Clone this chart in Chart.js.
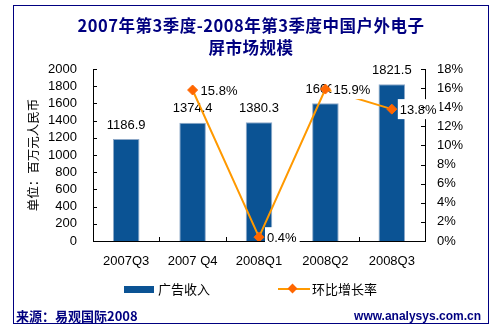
<!DOCTYPE html>
<html><head><meta charset="utf-8">
<script src="https://cdn.jsdelivr.net/npm/chart.js@4/dist/chart.umd.min.js"></script>
<style>
html,body{margin:0;padding:0;background:#fff;}
#wrap{position:relative;width:502px;height:330px;overflow:hidden;font-family:"Liberation Sans",Arial,sans-serif;}
#c{position:absolute;left:0;top:0;}
.frame{position:absolute;left:13px;top:5px;width:476px;height:319px;border:1px solid #000080;box-sizing:border-box;}
.title{position:absolute;left:0;top:14px;width:502px;text-align:center;font:bold 16.5px/22px "Noto Sans CJK SC",sans-serif;letter-spacing:0.5px;color:#000080;}
.leg{position:absolute;top:280px;height:18px;font:13px/18px "Noto Sans CJK SC",sans-serif;color:#000;}
.src{position:absolute;left:16px;top:307px;font:bold 13px/18px "Noto Sans CJK SC",sans-serif;color:#000080;}
.url{position:absolute;right:21px;top:307px;font:bold 12px/18px "Liberation Sans",Arial,sans-serif;color:#000080;}
</style></head>
<body>
<div id="wrap">
<canvas id="c" width="502" height="330"></canvas>
<div class="frame"></div>
<div class="title">2007年第3季度-2008年第3季度中国户外电子<br>屏市场规模</div>
<div class="leg" style="left:124px;"><span style="display:inline-block;width:30px;height:7px;background:#0B5394;vertical-align:middle;margin-right:4px;position:relative;top:-1px;"></span>广告收入</div>
<div class="leg" style="left:278px;"><span style="display:inline-block;width:32px;height:14px;vertical-align:middle;position:relative;top:-1px;margin-right:2px;">
<span style="position:absolute;left:0;top:6px;width:32px;height:2px;background:#FF9900;"></span>
<span style="position:absolute;left:11px;top:3px;width:7px;height:7px;background:#FF6600;transform:rotate(45deg);"></span></span>环比增长率</div>
<div class="src">来源：易观国际2008</div>
<div class="url">www.analysys.com.cn</div>
</div>
<script>
const categories = ["2007Q3","2007 Q4","2008Q1","2008Q2","2008Q3"];
const revenue = [1186.9, 1374.4, 1380.3, 1600.6, 1821.5];
const growth = [null, 15.8, 0.4, 15.9, 13.8];
const revenueLabels = ["1186.9","1374.4","1380.3","1600.6","1821.5"];
const growthLabels = [null, "15.8%", "0.4%", "15.9%", "13.8%"];
const leftAxis = {min: 0, max: 2000, step: 200};
const rightAxis = {min: 0, max: 18, step: 2};

const tickFont = {family: '"Liberation Sans", Arial, sans-serif', size: 13};

const labelPlugin = {
  id: 'labels',
  afterDatasetDraw(chart, args) {
    const ctx = chart.ctx;
    const meta = args.meta;
    ctx.save();
    ctx.font = '13px "Liberation Sans", Arial, sans-serif';
    ctx.fillStyle = '#000';
    ctx.textBaseline = 'middle';
    if (meta.type === 'bar') {
      ctx.textAlign = 'center';
      meta.data.forEach((el, i) => {
        ctx.fillText(revenueLabels[i], el.x, el.y - 14);
      });
    } else if (meta.type === 'line') {
      ctx.textAlign = 'left';
      meta.data.forEach((el, i) => {
        const t = growthLabels[i];
        if (!t) return;
        const w = ctx.measureText(t).width;
        ctx.fillStyle = '#fff';
        ctx.fillRect(el.x + 6, el.y - 10, w + 5, 20);
        ctx.fillStyle = '#000';
        ctx.fillText(t, el.x + 8, el.y + 1);
      });
    }
    ctx.restore();
  }
};

const tickPlugin = {
  id: 'inticks',
  afterDraw(chart) {
    const ctx = chart.ctx;
    const a = chart.chartArea;
    const x = chart.scales.x, y = chart.scales.y, y1 = chart.scales.y1;
    ctx.save();
    ctx.strokeStyle = '#000';
    ctx.lineWidth = 1;
    ctx.beginPath();
    y.ticks.forEach((t, i) => {
      const p = Math.round(y.getPixelForTick(i)) + 0.5;
      ctx.moveTo(a.left, p); ctx.lineTo(a.left + 4, p);
    });
    y1.ticks.forEach((t, i) => {
      const p = Math.round(y1.getPixelForTick(i)) + 0.5;
      ctx.moveTo(a.right, p); ctx.lineTo(a.right - 4, p);
    });
    for (let i = 1; i < categories.length; i++) {
      const p = Math.round((x.getPixelForValue(i - 1) + x.getPixelForValue(i)) / 2) + 0.5;
      ctx.moveTo(p, a.bottom); ctx.lineTo(p, a.bottom - 4);
    }
    ctx.stroke();
    ctx.restore();
  }
};

new Chart(document.getElementById('c'), {
  data: {
    labels: categories,
    datasets: [
      {
        type: 'line', label: '环比增长率', data: growth, yAxisID: 'y1', order: 0,
        borderColor: '#FF9900', borderWidth: 2, tension: 0,
        pointStyle: 'rectRot', pointRadius: 5, pointBackgroundColor: '#FF6600',
        pointBorderColor: '#FF6600', pointBorderWidth: 1
      },
      {
        type: 'bar', label: '广告收入', data: revenue, yAxisID: 'y', order: 1,
        backgroundColor: '#0B5394', borderColor: '#8EA9C8', borderWidth: 1,
        barPercentage: 0.4, categoryPercentage: 1
      }
    ]
  },
  options: {
    responsive: false, animation: false, devicePixelRatio: 1,
    layout: {padding: {top: 69, left: 0, right: 0, bottom: 0}},
    plugins: {legend: {display: false}, title: {display: false}, tooltip: {enabled: false}},
    scales: {
      x: {
        offset: true,
        grid: {display: false, drawTicks: false},
        border: {display: true, color: '#000', width: 1},
        ticks: {font: tickFont, color: '#000', padding: 13, maxRotation: 0, autoSkip: false},
        afterFit(s) { s.height = 89; s.paddingLeft = 0; s.paddingRight = 0; }
      },
      y: {
        position: 'left', min: leftAxis.min, max: leftAxis.max,
        grid: {display: false, drawTicks: false},
        border: {display: true, color: '#000', width: 1},
        ticks: {stepSize: leftAxis.step, font: tickFont, color: '#000', padding: 16,
          autoSkip: false, callback: v => String(v)},
        title: {display: true, text: '单位：百万元人民币', color: '#000',
          font: {family: '"Noto Sans CJK SC", sans-serif', size: 12.5}, padding: {top: 26, bottom: 0}},
        afterFit(s) { s.width = 93; s.paddingTop = 0; s.paddingBottom = 0; }
      },
      y1: {
        position: 'right', min: rightAxis.min, max: rightAxis.max,
        grid: {display: false, drawTicks: false},
        border: {display: true, color: '#000', width: 1},
        ticks: {stepSize: rightAxis.step, font: tickFont, color: '#000', padding: 12,
          autoSkip: false, callback: v => v + '%'},
        afterFit(s) { s.width = 77; s.paddingTop = 0; s.paddingBottom = 0; }
      }
    }
  },
  plugins: [labelPlugin, tickPlugin]
});
</script>
</body></html>
